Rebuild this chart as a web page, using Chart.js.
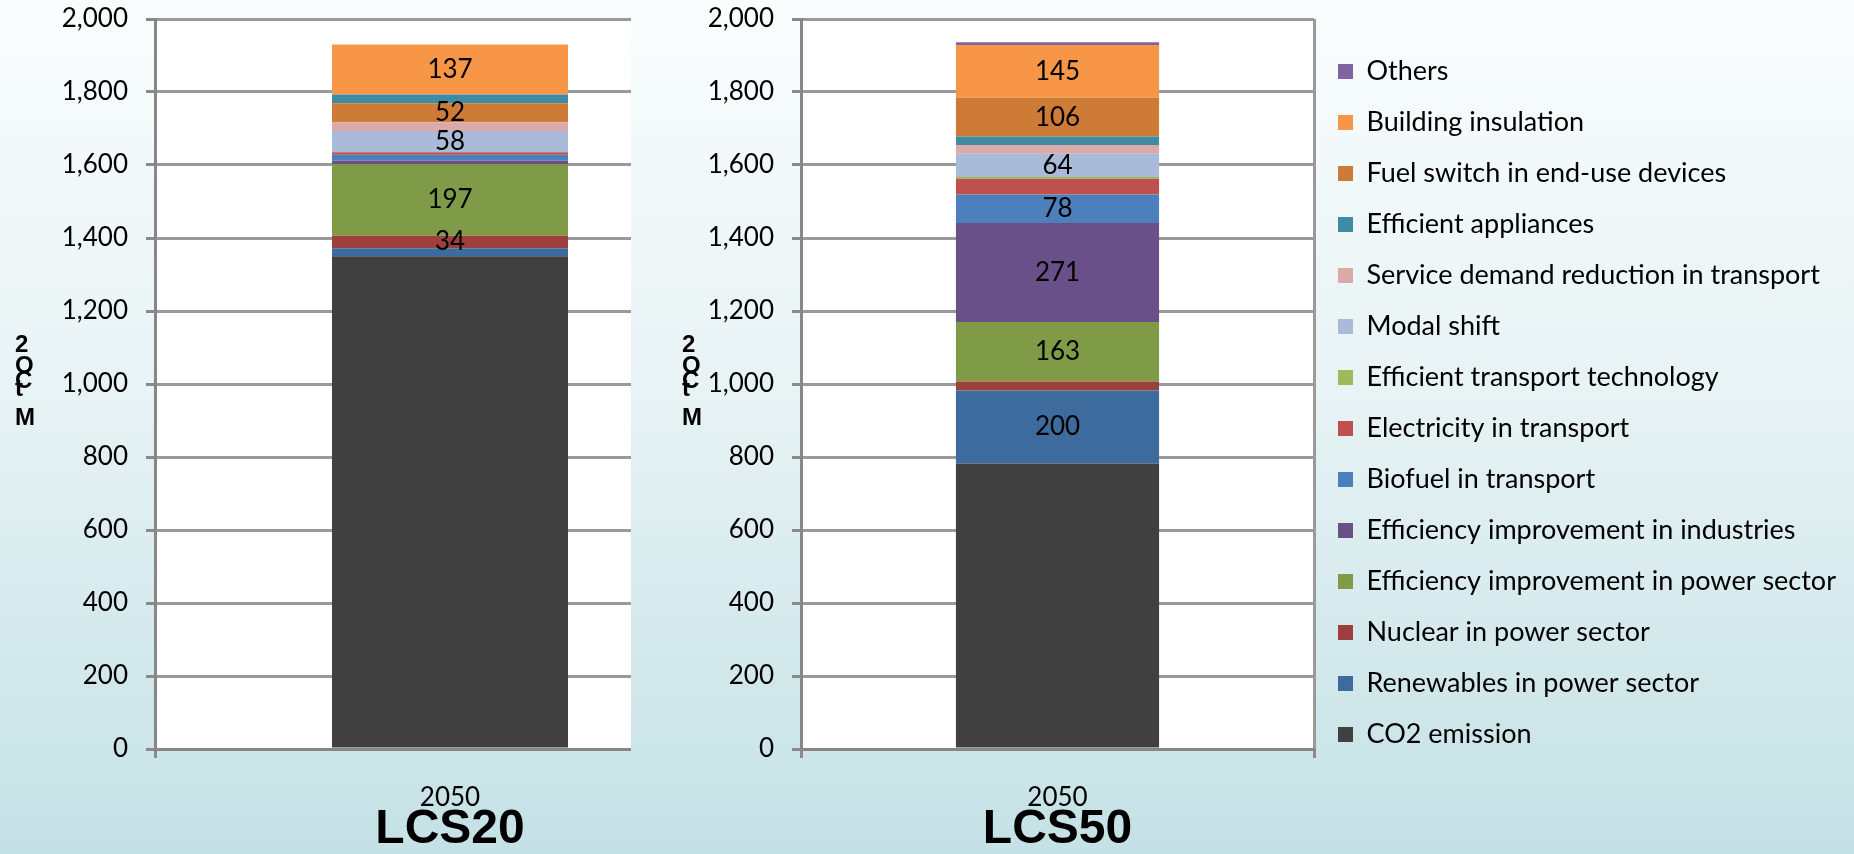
<!DOCTYPE html>
<html>
<head>
<meta charset="utf-8">
<script src="https://cdn.jsdelivr.net/npm/chart.js@4.4.1/dist/chart.umd.min.js"></script>
<style>
html,body{margin:0;padding:0;width:1854px;height:854px;overflow:hidden;}
body{position:relative;background:linear-gradient(to bottom,#fafdfd 0%,#e8f3f5 45%,#c4e1e5 100%);}
#ca{position:absolute;left:0;top:0;}
#cb{position:absolute;left:631px;top:0;background:linear-gradient(to bottom,#fafdfd 0%,#e8f3f5 45%,#c4e1e5 100%);}
</style>
</head>
<body>
<canvas id="ca" width="760" height="854"></canvas>
<canvas id="cb" width="1223" height="854"></canvas>
<script>
// ---- data ----
const categories = ['2050'];
const seriesNames = [
  'CO2 emission',
  'Renewables in power sector',
  'Nuclear in power sector',
  'Efficiency improvement in power sector',
  'Efficiency improvement in industries',
  'Biofuel in transport',
  'Electricity in transport',
  'Efficient transport technology',
  'Modal shift',
  'Service demand reduction in transport',
  'Efficient appliances',
  'Fuel switch in end-use devices',
  'Building insulation',
  'Others'
];
const seriesColors = ['#404040','#3e6b9e','#9d403d','#809b48','#6a5088','#4c7fbb','#c0504d','#9bbb59','#aabad9','#dba9a8','#3d8ca4','#cd7b37','#f79646','#8064a2'];
const lcs20Values = [1350, 22, 34, 197, 9, 16, 7, 0, 58, 24, 24, 52, 137, 0];
const lcs50Values = [782, 200, 25, 163, 271, 78, 43, 5, 64, 24, 23, 106, 145, 7];
// stacking order (bottom -> top) as indices into seriesNames
const lcs20StackOrder = [0,1,2,3,4,5,6,7,8,9,11,10,12,13];
const lcs50StackOrder = [0,1,2,3,4,5,6,7,8,9,10,11,12,13];
const lcs20Labelled = ['Nuclear in power sector','Efficiency improvement in power sector','Modal shift','Fuel switch in end-use devices','Building insulation'];
const lcs50Labelled = ['Renewables in power sector','Efficiency improvement in power sector','Efficiency improvement in industries','Biofuel in transport','Modal shift','Fuel switch in end-use devices','Building insulation'];
const yMin = 0, yMax = 2000, yStep = 200;
const yTitleChars = ['2','O','C','t','M'];
const scenarioTitles = ['LCS20','LCS50'];

// ---- helpers ----
const FONT = 'Lato';
const PAD_TOP = 19;
function buildDatasets(values, order, labelled){
  return order.map(i => ({
    label: seriesNames[i],
    data: [values[i]],
    backgroundColor: seriesColors[i],
    borderWidth: 0,
    showValue: labelled.includes(seriesNames[i])
  }));
}
const plotBg = {
  id:'plotBg',
  beforeDraw(chart){
    const {ctx, chartArea:a} = chart;
    ctx.save(); ctx.fillStyle='#ffffff';
    ctx.fillRect(a.left, a.top, a.right-a.left, a.bottom-a.top);
    ctx.restore();
  }
};
const segLabels = {
  id:'segLabels',
  afterDatasetsDraw(chart){
    const ctx = chart.ctx;
    ctx.save();
    ctx.font = '26px ' + FONT;
    ctx.fillStyle = '#000';
    ctx.textAlign = 'center';
    ctx.textBaseline = 'middle';
    chart.data.datasets.forEach((ds, i) => {
      if (!ds.showValue) return;
      const meta = chart.getDatasetMeta(i);
      meta.data.forEach((bar, j) => {
        ctx.fillText(String(ds.data[j]), bar.x, (bar.y + bar.base) / 2);
      });
    });
    ctx.restore();
  }
};
function yTitlePlugin(x){
  const ys = [345, 366, 381, 389, 418];
  return {
    id:'yTitle',
    afterDraw(chart){
      const ctx = chart.ctx;
      ctx.save();
      ctx.font = 'bold 24px "Liberation Sans"';
      ctx.fillStyle = '#000';
      ctx.textAlign = 'left';
      ctx.textBaseline = 'middle';
      yTitleChars.forEach((c, k) => ctx.fillText(c, x, ys[k]));
      ctx.restore();
    }
  };
}
function makeOptions(yWidth, title, padRight, withLegend, barPct){
  return {
    responsive:false,
    animation:false,
    layout:{padding:{top:PAD_TOP,left:0,right:padRight,bottom:0}},
    datasets:{bar:{categoryPercentage:1.0, barPercentage:barPct}},
    plugins:{
      tooltip:{enabled:false},
      legend: withLegend ? {
        display:true, position:'right', align:'start', reverse:true, maxWidth:700,
        title:{display:true, text:'', font:{size:15, lineHeight:1}, padding:0},
        labels:{boxWidth:15, boxHeight:15, padding:24, color:'#000', font:{family:FONT, size:27}}
      } : {display:false}
    },
    scales:{
      x:{
        stacked:true,
        afterFit(s){ s.height = 105; s.paddingLeft = 0; s.paddingRight = 0; },
        grid:{display:true, offset:true, drawOnChartArea:true, color:'#9a9a9a', lineWidth:3, tickLength:9, tickColor:'#8a8a8a'},
        border:{display:true, color:'#878787', width:3},
        ticks:{color:'#000', padding:24, font:{family:FONT, size:26}},
        title:{display:true, text:title, color:'#000', padding:0, font:{family:'Liberation Sans', weight:'bold', size:48, lineHeight:1}}
      },
      y:{
        stacked:true, min:yMin, max:yMax,
        afterFit(s){ s.width = yWidth; s.paddingTop = 0; s.paddingBottom = 0; },
        grid:{color:'#9a9a9a', lineWidth:3, tickLength:9, tickColor:'#8a8a8a'},
        border:{display:true, color:'#878787', width:3},
        ticks:{stepSize:yStep, color:'#000', padding:18, font:{family:FONT, size:26}}
      }
    }
  };
}

const chartA = new Chart(document.getElementById('ca'), {
  type:'bar',
  data:{labels:categories, datasets:buildDatasets(lcs20Values, lcs20StackOrder, lcs20Labelled)},
  options:makeOptions(155, scenarioTitles[0], 15, false, 0.40),
  plugins:[plotBg, segLabels, yTitlePlugin(15)]
});
const chartB = new Chart(document.getElementById('cb'), {
  type:'bar',
  data:{labels:categories, datasets:buildDatasets(lcs50Values, lcs50StackOrder, lcs50Labelled)},
  options:makeOptions(170, scenarioTitles[1], 0, true, 0.396),
  plugins:[plotBg, segLabels, yTitlePlugin(51)]
});
const diff = chartB.chartArea.right - 683;
chartB.options.layout.padding.right += diff;
chartB.update('none');
</script>
</body>
</html>
